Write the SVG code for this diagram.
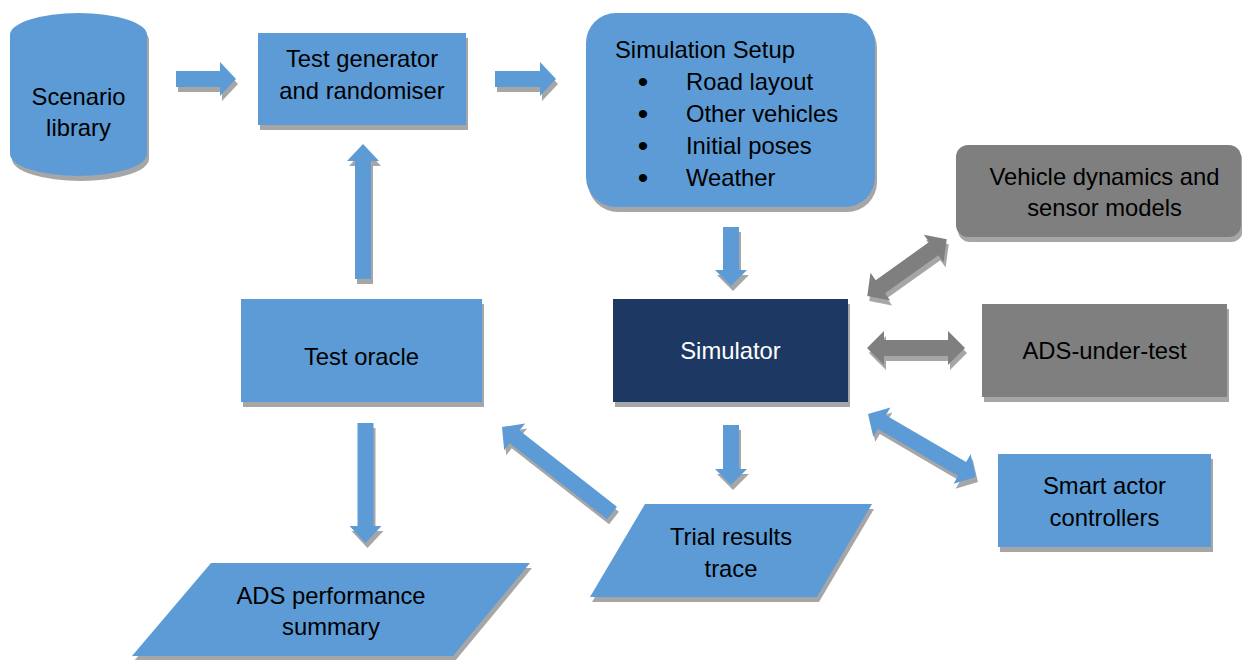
<svg xmlns="http://www.w3.org/2000/svg" width="1242" height="660" viewBox="0 0 1242 660">
<defs>
<filter id="sh" x="-20%" y="-20%" width="140%" height="150%">
<feOffset in="SourceAlpha" dx="1.5" dy="4.5" result="o"/>
<feFlood flood-color="#A6A6A6"/>
<feComposite in2="o" operator="in" result="s"/>
<feMerge><feMergeNode in="s"/><feMergeNode in="SourceGraphic"/></feMerge>
</filter>
</defs>
<style>
.b{fill:#5B9BD5}
.g{fill:#7F7F7F}
.n{fill:#1F3864}
text{font-family:"Liberation Sans",Arial,sans-serif;font-size:23.8px;fill:#000}
.c{text-anchor:middle}
.w{fill:#FFFFFF}
.bu{font-size:30px}
</style>
<rect width="1242" height="660" fill="#FFFFFF"/>
<g id="connectors">
<g filter="url(#sh)" class="b">
<path d="M176,71 H220 V62 L236,79 L220,96 V87 H176 Z"/>
<path d="M495,71 H540 V62 L556,79 L540,96 V87 H495 Z"/>
<path d="M723,227 H739 V270 H747 L731,286 L715,270 H723 Z"/>
<path d="M723,425 H739 V469 H747 L731,485 L715,469 H723 Z"/>
<path d="M355,279 V161 H347 L363,144 L379,161 H371 V279 Z"/>
<path d="M357.5,423 H373.5 V526 H381.5 L365.5,543 L349.5,526 H357.5 Z"/>
</g>
<g filter="url(#sh)" class="b">
<path transform="translate(612,513) rotate(-141.98)" d="M0,-8 H123.6 V-17 L139.6,0 L123.6,17 V8 H0 Z"/>
</g>
<g filter="url(#sh)" class="b">
<path transform="translate(868,414) rotate(30.3)" d="M0,0 L16,-17 V-8 H109 V-17 L125,0 L109,17 V8 H16 V17 Z"/>
</g>
<g filter="url(#sh)" class="g">
<path transform="translate(867.3,296) rotate(-35.5)" d="M0,0 L16,-17 V-8 H81.6 V-17 L97.6,0 L81.6,17 V8 H16 V17 Z"/>
</g>
<g filter="url(#sh)" class="g">
<path d="M867,348 L884,331 V340 H948 V331 L965,348 L948,365 V356 H884 V365 Z"/>
</g>
</g>
<g id="scenario-library">
<path class="b" filter="url(#sh)" d="M10,35 A68.5,22 0 0 1 147,35 V154 A68.5,22 0 0 1 10,154 Z"/>
<text class="c" x="78.5" y="104.5">Scenario</text>
<text class="c" x="78.5" y="136">library</text>
</g>
<g id="test-generator">
<rect class="b" filter="url(#sh)" x="258" y="33" width="208" height="92"/>
<text class="c" x="362" y="67">Test generator</text>
<text class="c" x="362" y="98.5">and randomiser</text>
</g>
<g id="simulation-setup">
<rect class="b" filter="url(#sh)" x="586" y="13" width="289" height="194" rx="30" ry="30"/>
<text x="615" y="58">Simulation Setup</text>
<text class="c bu" x="643" y="92">•</text>
<text x="686" y="90">Road layout</text>
<text class="c bu" x="643" y="124">•</text>
<text x="686" y="122">Other vehicles</text>
<text class="c bu" x="643" y="156">•</text>
<text x="686" y="154">Initial poses</text>
<text class="c bu" x="643" y="188">•</text>
<text x="686" y="186">Weather</text>
</g>
<g id="vehicle-dynamics">
<rect class="g" filter="url(#sh)" x="956" y="145" width="285" height="92" rx="12" ry="12"/>
<text class="c" x="1104.5" y="184.5">Vehicle dynamics and</text>
<text class="c" x="1104.5" y="216">sensor models</text>
</g>
<g id="simulator">
<rect class="n" filter="url(#sh)" x="613" y="299" width="235" height="103"/>
<text class="c w" x="730.5" y="359">Simulator</text>
</g>
<g id="test-oracle">
<rect class="b" filter="url(#sh)" x="241" y="299" width="241" height="103"/>
<text class="c" x="361.5" y="365">Test oracle</text>
</g>
<g id="ads-under-test">
<rect class="g" filter="url(#sh)" x="982" y="304" width="245" height="93"/>
<text class="c" x="1104.5" y="359">ADS-under-test</text>
</g>
<g id="smart-actor">
<rect class="b" filter="url(#sh)" x="998" y="454" width="213" height="93"/>
<text class="c" x="1104.5" y="494">Smart actor</text>
<text class="c" x="1104.5" y="526">controllers</text>
</g>
<g id="trial-results">
<path class="b" filter="url(#sh)" d="M645,504 H872 L817,597 H590 Z"/>
<text class="c" x="731" y="545">Trial results</text>
<text class="c" x="731" y="577">trace</text>
</g>
<g id="ads-performance">
<path class="b" filter="url(#sh)" d="M211,563 H530 L453,656 H132 Z"/>
<text class="c" x="331" y="604">ADS performance</text>
<text class="c" x="331" y="635">summary</text>
</g>
</svg>
